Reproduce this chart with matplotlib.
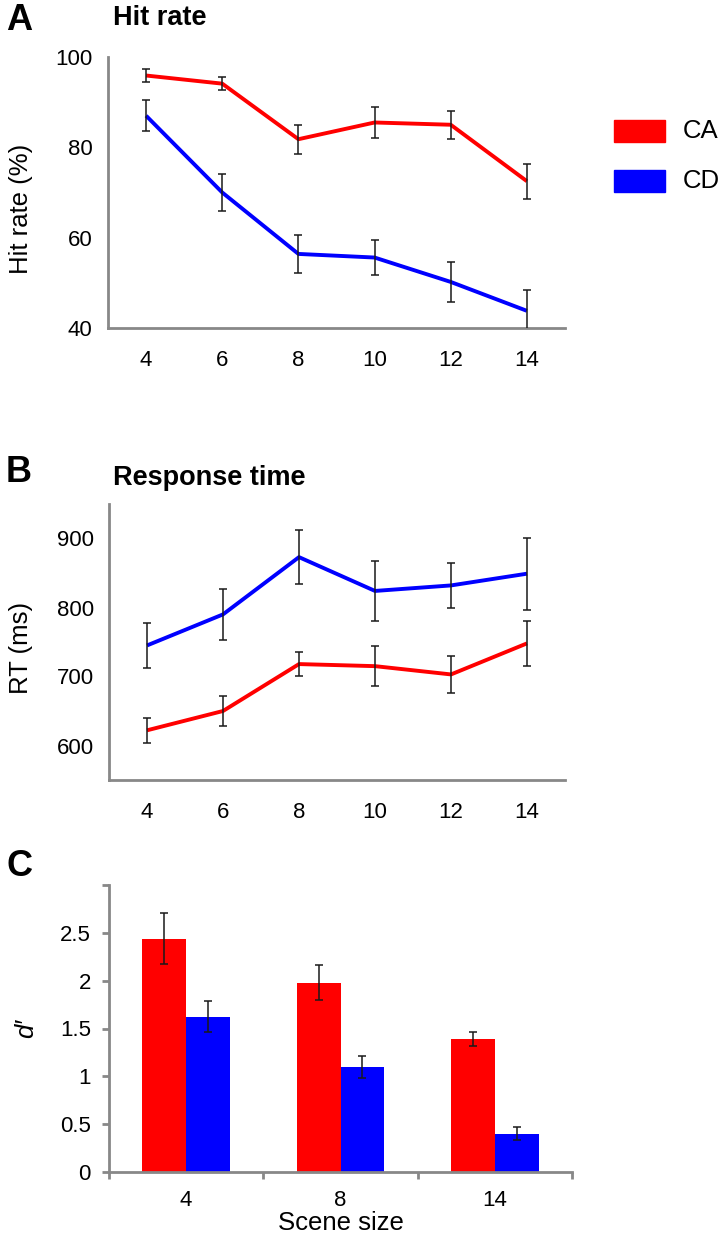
import matplotlib
matplotlib.use('Agg')
import matplotlib.pyplot as plt
from matplotlib.patches import Rectangle
import numpy as np

plt.rcParams['font.family'] = ['Liberation Sans', 'DejaVu Sans']

# scene sizes for the line panels
sizes = [4, 6, 8, 10, 12, 14]

# hit rate (%)
hit_ca = [95.9, 94.1, 81.8, 85.5, 85.0, 72.5]
hit_ca_err = [1.4, 1.5, 3.2, 3.5, 3.1, 3.9]
hit_cd = [87.0, 70.0, 56.4, 55.6, 50.2, 43.8]
hit_cd_err = [3.4, 4.0, 4.3, 3.9, 4.5, 4.6]

# response time (ms)
rt_ca = [622, 650, 718, 715, 703, 748]
rt_ca_err = [18, 22, 18, 29, 27, 33]
rt_cd = [745, 790, 873, 824, 832, 849]
rt_cd_err = [32, 37, 39, 44, 33, 52]

# d' bars
dp_sizes = ['4', '8', '14']
dp_ca = [2.44, 1.98, 1.39]
dp_ca_err = [0.27, 0.18, 0.07]
dp_cd = [1.625, 1.10, 0.40]
dp_cd_err = [0.16, 0.115, 0.07]

RED = '#ff0000'
BLUE = '#0000ff'
GRAY = '#888888'
W, H = 723, 1238
TICK_FS = 16
LABEL_FS = 18.5

fig = plt.figure(figsize=(W / 100, H / 100), dpi=100)


def axes_px(left, top, right, bottom):
    return fig.add_axes([left / W, 1 - bottom / H, (right - left) / W, (bottom - top) / H])


def style(ax, ticks=False):
    for s in ['top', 'right']:
        ax.spines[s].set_visible(False)
    for s in ['left', 'bottom']:
        ax.spines[s].set_color(GRAY)
        ax.spines[s].set_linewidth(2.0)
    ax.tick_params(labelsize=TICK_FS, colors=GRAY, labelcolor='black')
    if not ticks:
        ax.tick_params(length=0)
        ax.tick_params(axis='y', pad=11)
        ax.tick_params(axis='x', pad=16)


def draw_line(ax, y, err, color):
    ax.plot(sizes, y, color=color, lw=2.8, zorder=2, solid_capstyle='butt')
    ax.errorbar(sizes, y, yerr=err, fmt='none', ecolor='#1a1a1a', elinewidth=1.1,
                capsize=3, capthick=1.1, zorder=3)


# Panel A
axA = axes_px(108, 57, 565, 328)
draw_line(axA, hit_ca, hit_ca_err, RED)
draw_line(axA, hit_cd, hit_cd_err, BLUE)
axA.set_xlim(3, 15)
axA.set_ylim(40, 100)
axA.set_xticks(sizes)
axA.set_yticks([40, 60, 80, 100])
style(axA)
axA.set_ylabel('Hit rate (%)', fontsize=LABEL_FS)
axA.yaxis.set_label_coords(-0.164, 0.44)

# Panel B
axB = axes_px(109, 504, 565, 780)
draw_line(axB, rt_cd, rt_cd_err, BLUE)
draw_line(axB, rt_ca, rt_ca_err, RED)
axB.set_xlim(3, 15)
axB.set_ylim(550, 950)
axB.set_xticks(sizes)
axB.set_yticks([600, 700, 800, 900])
style(axB)
axB.set_ylabel('RT (ms)', fontsize=LABEL_FS)
axB.yaxis.set_label_coords(-0.166, 0.48)

# Panel C
axC = axes_px(109, 885, 572, 1172)
x = np.arange(len(dp_sizes))
bw = 0.285
axC.bar(x - bw / 2, dp_ca, bw, color=RED, zorder=2)
axC.bar(x + bw / 2, dp_cd, bw, color=BLUE, zorder=2)
axC.errorbar(x - bw / 2, dp_ca, yerr=dp_ca_err, fmt='none', ecolor='#1a1a1a',
             elinewidth=1.1, capsize=3, capthick=1.1, zorder=3)
axC.errorbar(x + bw / 2, dp_cd, yerr=dp_cd_err, fmt='none', ecolor='#1a1a1a',
             elinewidth=1.1, capsize=3, capthick=1.1, zorder=3)
axC.set_xlim(-0.5, 2.5)
axC.set_ylim(0, 3)
style(axC, ticks=True)
axC.set_yticks([0, 0.5, 1, 1.5, 2, 2.5, 3])
axC.set_yticklabels(['0', '0.5', '1', '1.5', '2', '2.5', ''])
axC.set_xticks([-0.5, 0.5, 1.5, 2.5])
axC.set_xticklabels([])
axC.set_xticks(x, minor=True)
axC.set_xticklabels(dp_sizes, minor=True)
axC.tick_params(axis='x', which='minor', length=0, pad=13, labelsize=TICK_FS)
axC.tick_params(axis='both', which='major', length=5, width=2.0, pad=8)
axC.set_ylabel("d\u2032", fontsize=LABEL_FS, style='italic')
axC.yaxis.set_label_coords(-0.153, 0.5)
axC.set_xlabel('Scene size', fontsize=LABEL_FS, labelpad=0)

# Legend
for lbl, col, top in [('CA', RED, 120), ('CD', BLUE, 170)]:
    fig.add_artist(Rectangle((614 / W, 1 - (top + 22) / H), 51 / W, 22 / H,
                             transform=fig.transFigure, color=col))
    fig.text(683 / W, 1 - (top + 11) / H, lbl, fontsize=18.5, va='center', ha='left')

# Panel letters and titles
fig.text(6 / W, 1 - 20 / H, 'A', fontsize=26, fontweight='bold', va='center')
fig.text(113 / W, 1 - 18 / H, 'Hit rate', fontsize=19.5, fontweight='bold', va='center')
fig.text(6 / W, 1 - 472 / H, 'B', fontsize=26, fontweight='bold', va='center')
fig.text(113 / W, 1 - 478 / H, 'Response time', fontsize=19.5, fontweight='bold', va='center')
fig.text(6 / W, 1 - 867 / H, 'C', fontsize=26, fontweight='bold', va='center')

plt.savefig('out.png', dpi=100)
